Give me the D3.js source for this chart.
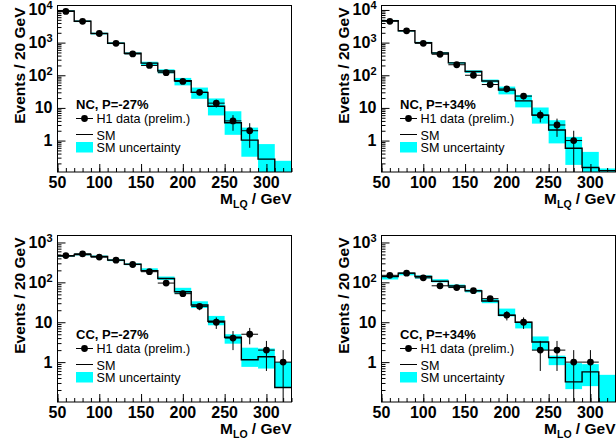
<!DOCTYPE html>
<html>
<head>
<meta charset="utf-8">
<script src="https://cdn.jsdelivr.net/npm/d3@7/dist/d3.min.js"></script>
<style>
  body { margin: 0; background: #fff; }
  svg { display: block; font-family: "Liberation Sans", Arial, Helvetica, sans-serif; }
</style>
</head>
<body>
<div id="main"></div>
<script>
// bins are 20 GeV wide, centred on these masses
var binCenters = [60, 80, 100, 120, 140, 160, 180, 200, 220, 240, 260, 280, 300, 320];
var xTickValues = [50, 100, 150, 200, 250, 300];

// NC, P=-27%
var ncMinusSM     = [9300, 4500, 1900, 960, 470, 235, 135, 68, 30, 11.3, 3.5, 1.03, 0.27, 0.08];
var ncMinusSMLow  = [8800, 4250, 1780, 900, 440, 205, 115, 49, 19, 5.9, 1.5, 0.32, 0.05, 0.05];
var ncMinusSMHigh = [9800, 4750, 2020, 1020, 500, 260, 152, 83, 42, 19.5, 7.9, 2.5, 0.78, 0.24];
var ncMinusData   = [9000, 4500, 1900, 950, 450, 200, 120, 65, 30, 14, 4, 2];
var ncMinusErr    = [95, 67, 44, 31, 21, 14, 11, 8, 5.5, 3.7, 2, 1.4];

// NC, P=+34%
var ncPlusSM     = [4700, 2300, 1000, 480, 240, 130, 67, 35, 16.4, 6, 2.1, 0.58, 0.15, 0.12];
var ncPlusSMLow  = [4450, 2180, 940, 450, 225, 118, 60, 26, 10.4, 3.3, 0.82, 0.18, 0.05, 0.05];
var ncPlusSMHigh = [4950, 2420, 1060, 510, 255, 142, 74, 45, 25, 10.3, 4.2, 1.3, 0.45, 0.14];
var ncPlusData   = [4500, 2300, 950, 440, 210, 100, 52, 38, 23, 6, 3, 1];
var ncPlusErr    = [67, 48, 31, 21, 14.5, 10, 7.2, 6.2, 4.8, 2.4, 1.7, 1];

// CC, P=-27%
var ccMinusSM     = [460, 500, 445, 360, 285, 195, 125, 58, 27, 10.6, 4.2, 1.15, 1.36, 0.23];
var ccMinusSMLow  = [440, 475, 425, 340, 270, 190, 115, 53, 22.7, 8.4, 2.9, 0.76, 0.69, 0.23];
var ccMinusSMHigh = [480, 525, 470, 380, 300, 225, 140, 73, 33.5, 14.4, 5, 2.3, 2.2, 1.0];
var ccMinusData   = [470, 520, 430, 360, 280, 185, 96, 52, 25, 10, 4, 5, 2, 1];
var ccMinusErr    = [22, 23, 21, 19, 17, 13.6, 9.8, 7.2, 5, 3.2, 2, 2.2, 1.4, 1];

// CC, P=+34%
var ccPlusSM     = [139, 170, 140, 107, 81, 61, 34, 15, 10, 3.2, 1.3, 0.32, 0.57, 0.08];
var ccPlusSMLow  = [118, 150, 125, 100, 75, 56, 30, 14, 7, 2.0, 0.84, 0.21, 0.25, 0.05];
var ccPlusSMHigh = [142, 175, 150, 120, 88, 66, 38, 22, 10, 4.4, 1.45, 0.94, 0.89, 0.48];
var ccPlusData   = [150, 170, 130, 82, 74, 62, 39, 15, 10, 2, 2, 1, 1];
var ccPlusErr    = [12, 13, 11.4, 9, 8.6, 7.9, 6.2, 3.9, 3.2, 1.4, 1.4, 1, 1];

var width = 616, height = 438;

var panels = [
  { label: "NC, P=-27%", sm: ncMinusSM, lo: ncMinusSMLow, hi: ncMinusSMHigh, data: ncMinusData, err: ncMinusErr,
    left: 57.5, top: 5.5, yDomain: [0.109, 13700], yMajor: [1, 10, 100, 1000, 10000] },
  { label: "NC, P=+34%", sm: ncPlusSM, lo: ncPlusSMLow, hi: ncPlusSMHigh, data: ncPlusData, err: ncPlusErr,
    left: 381.5, top: 5.5, yDomain: [0.109, 13700], yMajor: [1, 10, 100, 1000, 10000] },
  { label: "CC, P=-27%", sm: ccMinusSM, lo: ccMinusSMLow, hi: ccMinusSMHigh, data: ccMinusData, err: ccMinusErr,
    left: 57.5, top: 235.5, yDomain: [0.1, 1496], yMajor: [1, 10, 100, 1000] },
  { label: "CC, P=+34%", sm: ccPlusSM, lo: ccPlusSMLow, hi: ccPlusSMHigh, data: ccPlusData, err: ccPlusErr,
    left: 381.5, top: 235.5, yDomain: [0.1, 1496], yMajor: [1, 10, 100, 1000] }
];
var frameW = 234, frameH = 166.5;

var svg = d3.select("#main").append("svg")
  .attr("width", width)
  .attr("height", height);

panels.forEach(function(p, pi){

  var x = d3.scaleLinear().domain([50, 330]).range([p.left, p.left + frameW]);
  var y = d3.scaleLog().domain(p.yDomain).range([p.top + frameH, p.top]);

  var g = svg.append("g").attr("class", "panel panel" + pi);

  // clip to the frame
  g.append("clipPath").attr("id", "clip" + pi)
    .append("rect")
      .attr("x", p.left).attr("y", p.top)
      .attr("width", frameW).attr("height", frameH);

  var plot = g.append("g").attr("clip-path", "url(#clip" + pi + ")");

  // SM uncertainty band
  plot.selectAll("rect.band").data(p.sm).enter().append("rect")
    .attr("class", "band")
    .attr("x", function(d, i){ return x(binCenters[i] - 10); })
    .attr("width", function(d, i){ return x(binCenters[i] + 10) - x(binCenters[i] - 10); })
    .attr("y", function(d, i){ return y(p.hi[i]); })
    .attr("height", function(d, i){ return y(p.lo[i]) - y(p.hi[i]); })
    .attr("fill", "#00ffff");

  // SM histogram as steps
  var steps = p.sm.map(function(d, i){ return [binCenters[i] - 10, d]; });
  steps.push([binCenters[binCenters.length - 1] + 10, p.sm[p.sm.length - 1]]);
  var stepLine = d3.line()
    .x(function(d){ return x(d[0]); })
    .y(function(d){ return y(d[1]); })
    .curve(d3.curveStepAfter);
  plot.append("path")
    .attr("d", stepLine(steps))
    .attr("fill", "none")
    .attr("stroke", "#000")
    .attr("stroke-width", 1.4);

  // data points with error bars
  var pts = plot.selectAll("g.pt").data(p.data).enter().append("g").attr("class", "pt");
  pts.append("line")
    .attr("x1", function(d, i){ return x(binCenters[i] - 10); })
    .attr("x2", function(d, i){ return x(binCenters[i] + 10); })
    .attr("y1", function(d){ return y(d); })
    .attr("y2", function(d){ return y(d); })
    .attr("stroke", "#000").attr("stroke-width", 1);
  pts.append("line")
    .attr("x1", function(d, i){ return x(binCenters[i]); })
    .attr("x2", function(d, i){ return x(binCenters[i]); })
    .attr("y1", function(d, i){ return y(d + p.err[i]); })
    .attr("y2", function(d, i){
      var low = d - p.err[i];
      return low > 0 ? y(low) : p.top + frameH + 5;
    })
    .attr("stroke", "#000").attr("stroke-width", 1);
  pts.append("circle")
    .attr("cx", function(d, i){ return x(binCenters[i]); })
    .attr("cy", function(d){ return y(d); })
    .attr("r", 3.4)
    .attr("fill", "#000");

  // axes, ticks pointing inwards
  var bottom = p.top + frameH;
  g.append("g")
    .attr("transform", "translate(0," + bottom + ")")
    .call(d3.axisBottom(x).tickValues(d3.range(50, 331, 10)).tickSize(-4).tickSizeOuter(0).tickFormat(""));
  g.append("g")
    .attr("transform", "translate(0," + bottom + ")")
    .call(d3.axisBottom(x).tickValues(xTickValues).tickSize(-8).tickSizeOuter(0).tickFormat(""));

  var yMinor = [];
  for(var e = -1; e <= 4; e++){
    for(var k = 2; k <= 9; k++){
      var v = k * Math.pow(10, e);
      if(v >= p.yDomain[0] && v <= p.yDomain[1]) yMinor.push(v);
    }
  }
  g.append("g")
    .attr("transform", "translate(" + p.left + ",0)")
    .call(d3.axisLeft(y).tickValues(yMinor).tickSize(-4).tickSizeOuter(0).tickFormat(""));
  g.append("g")
    .attr("transform", "translate(" + p.left + ",0)")
    .call(d3.axisLeft(y).tickValues(p.yMajor).tickSize(-8).tickSizeOuter(0).tickFormat(""));

  g.selectAll(".tick line").attr("stroke", "#000");
  g.selectAll(".domain").remove();

  // frame
  g.append("rect")
    .attr("x", p.left).attr("y", p.top)
    .attr("width", frameW).attr("height", frameH)
    .attr("fill", "none")
    .attr("stroke", "#000")
    .attr("stroke-width", 1);

  // x tick labels
  g.selectAll("text.xlab").data(xTickValues).enter().append("text")
    .attr("class", "xlab")
    .attr("x", function(d){ return x(d); })
    .attr("y", bottom + 15.5)
    .attr("text-anchor", "middle")
    .attr("font-size", 16)
    .attr("font-weight", "bold")
    .text(function(d){ return d; });

  // y tick labels, powers of ten above 10
  g.selectAll("text.ylab").data(p.yMajor).enter().append("text")
    .attr("class", "ylab")
    .attr("y", function(d){ return y(d) + 5.5; })
    .attr("x", p.left - 5)
    .attr("text-anchor", "end")
    .attr("font-size", 16)
    .attr("font-weight", "bold")
    .each(function(d){
      var t = d3.select(this);
      if(d <= 10){
        t.text(d);
      } else {
        t.append("tspan").text("10");
        t.append("tspan").attr("dy", -6).attr("font-size", 11).text(Math.round(Math.log10(d)));
      }
    });

  // axis titles
  g.append("text")
    .attr("transform", "translate(" + (p.left - 33) + "," + (p.top + 2) + ") rotate(-90)")
    .attr("text-anchor", "end")
    .attr("font-size", 15.5)
    .attr("font-weight", "bold")
    .text("Events / 20 GeV");

  var xt = g.append("text")
    .attr("x", p.left + frameW)
    .attr("y", bottom + 32)
    .attr("text-anchor", "end")
    .attr("font-size", 15.5)
    .attr("font-weight", "bold");
  xt.append("tspan").text("M");
  xt.append("tspan").attr("dy", 4).attr("font-size", 10.5).text("LQ");
  xt.append("tspan").attr("dy", -4).text(" / GeV");

  // legend
  var lx = p.left + 18.5, tx = p.left + 39;
  g.append("text")
    .attr("x", lx).attr("y", p.top + 103.5)
    .attr("font-size", 13).attr("font-weight", "bold")
    .text(p.label);

  g.append("line")
    .attr("x1", lx).attr("x2", lx + 17)
    .attr("y1", p.top + 113).attr("y2", p.top + 113)
    .attr("stroke", "#000").attr("stroke-width", 1);
  g.append("circle")
    .attr("cx", lx + 8.5).attr("cy", p.top + 113).attr("r", 3.4)
    .attr("fill", "#000");
  g.append("text")
    .attr("x", tx).attr("y", p.top + 117.5)
    .attr("font-size", 12.6)
    .text("H1 data (prelim.)");

  g.append("line")
    .attr("x1", lx).attr("x2", lx + 17)
    .attr("y1", p.top + 129).attr("y2", p.top + 129)
    .attr("stroke", "#000").attr("stroke-width", 1);
  g.append("text")
    .attr("x", tx).attr("y", p.top + 134)
    .attr("font-size", 12.6)
    .text("SM");

  g.append("rect")
    .attr("x", lx).attr("y", p.top + 136.5)
    .attr("width", 17).attr("height", 10.5)
    .attr("fill", "#00ffff");
  g.append("text")
    .attr("x", tx).attr("y", p.top + 146.5)
    .attr("font-size", 12.6)
    .text("SM uncertainty");
});
</script>
</body>
</html>
